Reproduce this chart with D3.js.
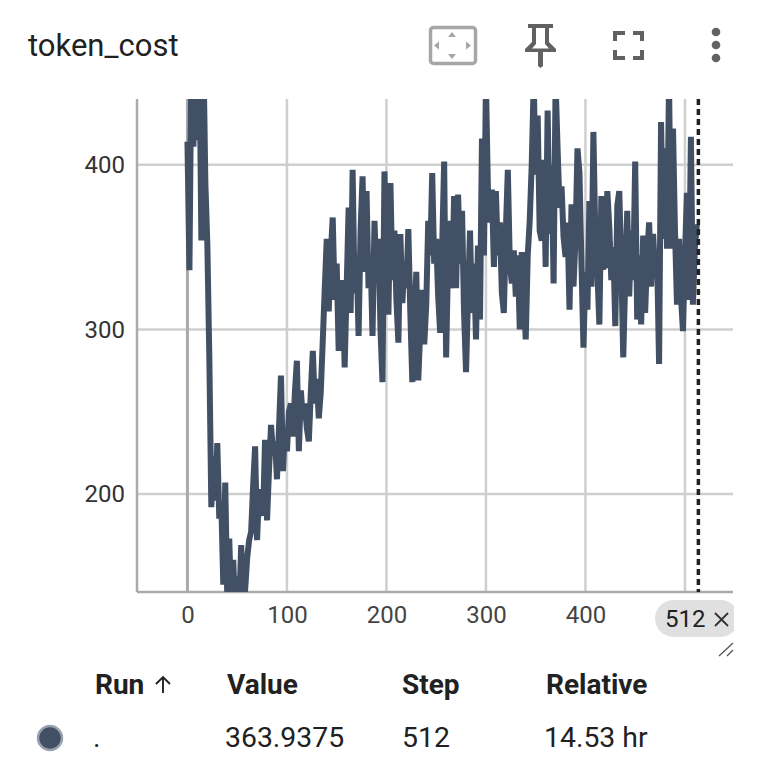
<!DOCTYPE html>
<html>
<head>
<meta charset="utf-8">
<script src="https://cdn.jsdelivr.net/npm/d3@7"></script>
<style>
  html, body { margin: 0; padding: 0; background: #fff; }
  text { font-family: Roboto, sans-serif; fill: #212121; }
</style>
</head>
<body>
<div id="chart"></div>
<script>
// one value every 2 steps, ten per row (0-18, 20-38, ...)
const steps = d3.range(0, 513, 2);
const values = [
  414,336,470,411,460,415,470,354,470,389,
  352,283,192,223,196,231,185,195,145,207,
  138,173,132,160,128,150,130,169,135,142,
  161,172,177,205,229,172,203,190,187,233,
  184,215,242,225,232,209,240,272,214,240,
  226,250,255,235,262,281,226,263,245,255,
  240,232,262,287,255,270,246,262,293,325,
  355,311,345,368,318,340,287,318,330,277,
  325,374,310,397,322,345,296,360,393,335,
  384,325,345,296,366,330,355,300,268,396,
  340,309,389,330,360,318,292,358,316,340,
  325,361,310,268,304,335,269,300,324,291,
  315,366,345,395,340,355,320,298,350,402,
  283,345,366,325,381,325,382,340,372,310,
  274,320,360,310,340,294,351,306,416,345,
  450,385,365,385,338,384,345,365,322,310,
  360,397,340,328,348,320,345,300,347,320,
  294,345,366,400,450,394,430,360,354,403,
  338,433,358,400,328,450,410,374,387,356,
  344,365,312,376,326,355,410,395,340,289,
  335,312,378,326,420,354,335,303,381,338,
  338,384,362,330,350,302,375,384,340,283,
  330,372,320,360,330,402,306,345,303,357,
  310,345,365,326,358,335,345,279,426,355,
  410,349,450,349,422,360,315,355,320,299,
  345,383,318,417,315,350,363.9375
];

const xTicks = [0, 100, 200, 300, 400];
const xGrid = [0, 100, 200, 300, 400, 500];
const yTicks = [200, 300, 400];
const cursorPos = 513.5;
const cursorLabel = "512";

const headers = ["Run", "Value", "Step", "Relative"];
const row = [".", "363.9375", "512", "14.53 hr"];

const lineColor = "#425066";

const svg = d3.select("#chart").append("svg")
    .attr("width", 760)
    .attr("height", 762)
    .style("display", "block");

const x = d3.scaleLinear().domain([-50.7, 548.3]).range([137, 733]);
const y = d3.scaleLinear().domain([140.5, 440]).range([592, 99]);

svg.append("text")
    .attr("x", 28).attr("y", 56)
    .attr("font-size", 31)
    .text("token_cost");

// grid
svg.append("g").selectAll("line").data(yTicks).join("line")
    .attr("x1", 137).attr("x2", 733)
    .attr("y1", d => y(d)).attr("y2", d => y(d))
    .attr("stroke", "#cfcfcf").attr("stroke-width", 2.5);

svg.append("g").selectAll("line").data(xGrid).join("line")
    .attr("x1", d => x(d)).attr("x2", d => x(d))
    .attr("y1", 99).attr("y2", 592)
    .attr("stroke", d => d === 0 ? "#aaaaaa" : "#cfcfcf")
    .attr("stroke-width", d => d === 0 ? 3 : 2.5);

// axes
const xAxis = svg.append("g")
    .attr("transform", "translate(0,592)")
    .call(d3.axisBottom(x).tickValues(xTicks).tickFormat(d3.format("d")).tickSize(0).tickPadding(14));
const yAxis = svg.append("g")
    .attr("transform", "translate(137,0)")
    .call(d3.axisLeft(y).tickValues(yTicks).tickFormat(d3.format("d")).tickSize(0).tickPadding(12));

xAxis.select(".domain").attr("d", "M137,0H733").attr("stroke", "#aaaaaa").attr("stroke-width", 2.5);
yAxis.select(".domain").attr("d", "M0,99V592").attr("stroke", "#aaaaaa").attr("stroke-width", 2.5);
xAxis.selectAll("text").attr("font-size", 24).style("fill", "#444");
yAxis.selectAll("text").attr("font-size", 24).style("fill", "#333");

// series
svg.append("clipPath").attr("id", "plot")
  .append("rect").attr("x", 137).attr("y", 99).attr("width", 596).attr("height", 493);

const line = d3.line().x((d, i) => x(steps[i])).y(d => y(d));

svg.append("path")
    .datum(values)
    .attr("clip-path", "url(#plot)")
    .attr("fill", "none")
    .attr("stroke", lineColor)
    .attr("stroke-width", 6)
    .attr("stroke-linejoin", "bevel")
    .attr("d", line);

// hover cursor
svg.append("line")
    .attr("x1", x(cursorPos)).attr("x2", x(cursorPos))
    .attr("y1", 99).attr("y2", 592)
    .attr("stroke", "#222")
    .attr("stroke-width", 3.5)
    .attr("stroke-dasharray", "6 4");

// step chip, cut off by the card edge on the right
svg.append("clipPath").attr("id", "chipClip")
  .append("rect").attr("x", 650).attr("y", 595).attr("width", 84).attr("height", 50);
svg.append("rect")
    .attr("clip-path", "url(#chipClip)")
    .attr("x", 655).attr("y", 600).attr("width", 84).attr("height", 37).attr("rx", 18.5)
    .attr("fill", "#e0e0e0");
svg.append("text")
    .attr("x", 665).attr("y", 627).attr("font-size", 24).text(cursorLabel);
svg.append("path")
    .attr("d", "M715,613L728,626M728,613L715,626")
    .attr("stroke", "#333").attr("stroke-width", 1.8);

// resize handle
svg.append("path")
    .attr("d", "M719,656L733,643M727,656L733,650")
    .attr("stroke", "#555").attr("stroke-width", 1.3).attr("fill", "none");

// toolbar icons
const icons = svg.append("g");
icons.append("rect")
    .attr("x", 430.5).attr("y", 27.5).attr("width", 45).attr("height", 36).attr("rx", 3)
    .attr("fill", "none").attr("stroke", "#a6a6a6").attr("stroke-width", 3.5);
icons.append("path")
    .attr("d", "M452,32l4,5h-8zM452,59l4,-5h-8zM434,45.5l5,-4v8zM471,45.5l-5,-4v8z")
    .attr("fill", "#a6a6a6");
icons.append("path")
    .attr("d", "M528,24H553V28H549V42L556,49V52H543V66L540.5,68L538,66V52H525V49L532,42V28H528ZM536,28V44L532,48.5H549L545,44V28Z")
    .attr("fill", "#616161").attr("fill-rule", "evenodd");
icons.append("path")
    .attr("d", "M613,31H625V35H617V41H613ZM644,31V41H640V35H633V31ZM613,50H617V56H625V60H613ZM640,50H644V60H633V56H640Z")
    .attr("fill", "#616161");
icons.selectAll("circle").data([32, 45, 58]).join("circle")
    .attr("cx", 716).attr("cy", d => d).attr("r", 4.3)
    .attr("fill", "#616161");

// run table
const colX = [95, 227, 402, 546];
const rowX = [93, 225, 402, 544];
svg.append("g").selectAll("text").data(headers).join("text")
    .attr("x", (d, i) => colX[i]).attr("y", 694)
    .attr("font-size", 28).attr("font-weight", 700)
    .text(d => d);
// sort arrow next to "Run"
svg.append("path")
    .attr("d", "M163,693V677M156,684L163,677L170,684")
    .attr("fill", "none").attr("stroke", "#212121").attr("stroke-width", 1.9);
svg.append("g").selectAll("text").data(row).join("text")
    .attr("x", (d, i) => rowX[i]).attr("y", 747)
    .attr("font-size", 28.4)
    .text(d => d);
svg.append("circle")
    .attr("cx", 50).attr("cy", 738).attr("r", 12)
    .attr("fill", lineColor).attr("stroke", "#98a1ad").attr("stroke-width", 2.5);
</script>
</body>
</html>
